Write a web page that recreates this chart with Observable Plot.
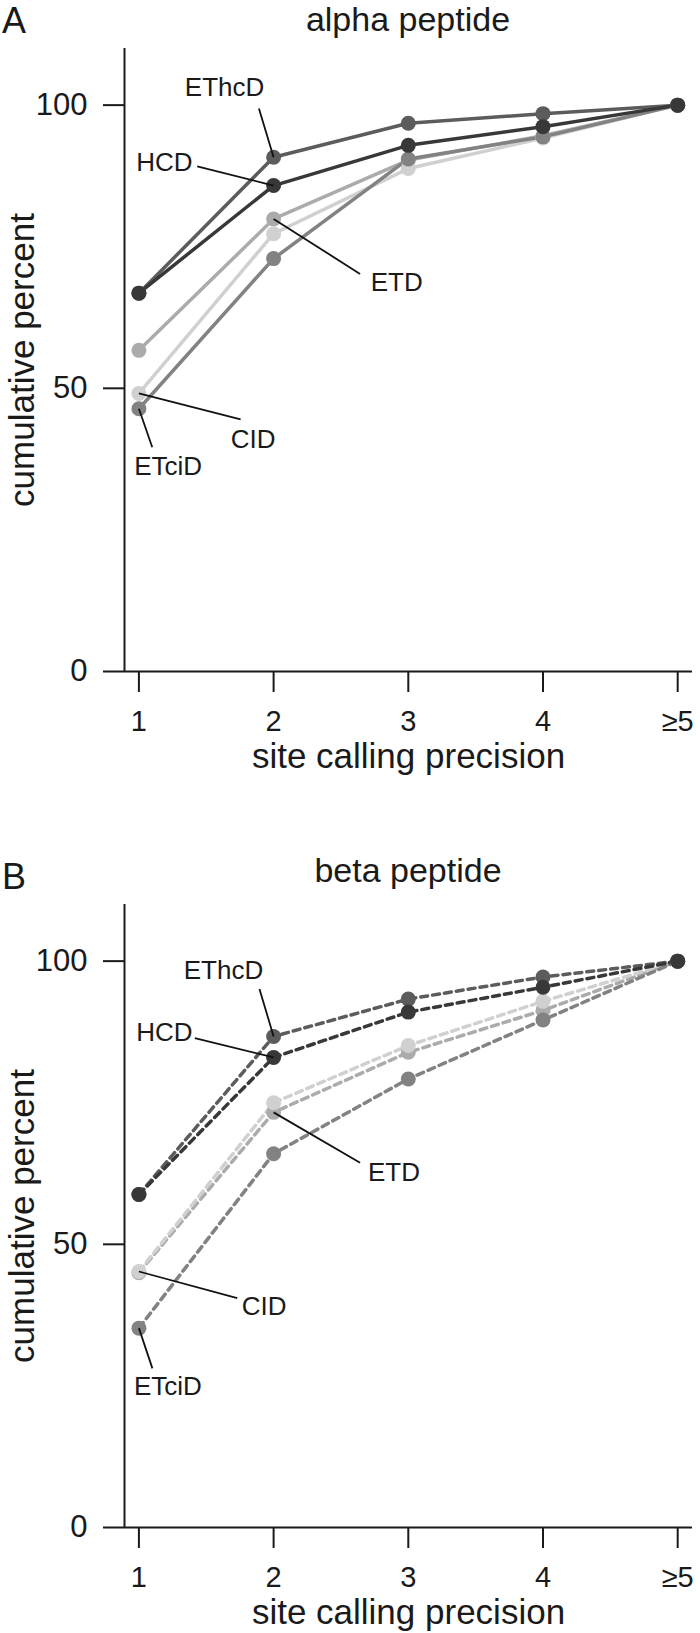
<!DOCTYPE html>
<html><head><meta charset="utf-8">
<script src="https://cdn.jsdelivr.net/npm/d3@7"></script>
<script src="https://cdn.jsdelivr.net/npm/@observablehq/plot@0.6"></script>
<style>
html,body{margin:0;padding:0;background:#fff;overflow:hidden;}
body{width:700px;height:1633px;font-family:"Liberation Sans",Arial,Helvetica,sans-serif;color:#1a1a1a;}
.panel{position:relative;width:700px;}
.panel svg{display:block;}
.letter{position:absolute;left:2px;top:3px;font-size:36px;line-height:36px;}
.title{position:absolute;left:124px;width:568px;text-align:center;font-size:34px;line-height:34px;top:2px;}
</style></head><body>
<div id="A" class="panel" style="height:856px"><div class="letter">A</div><div class="title">alpha peptide</div></div>
<div id="B" class="panel" style="height:777px"><div class="letter">B</div><div class="title" style="top:-3px">beta peptide</div></div>
<script>
// ---- data ----
const precision = [1, 2, 3, 4, 5];
const xTickLabels = ["1", "2", "3", "4", "≥5"];
const yTicks = [0, 50, 100];
const methods = ["ETD", "CID", "ETciD", "EThcD", "HCD"];
const methodColors = ["#ababab", "#d0d0d0", "#828282", "#5c5c5c", "#383838"];

// alpha peptide (cumulative percent)
const alphaCID   = [49.1, 77.3, 88.8, 94.2, 100];
const alphaETD   = [56.7, 79.9, 90.3, 94.6, 100];
const alphaETciD = [46.4, 72.9, 90.5, 94.4, 100];
const alphaEThcD = [66.8, 90.8, 96.8, 98.5, 100];
const alphaHCD   = [66.8, 85.8, 92.9, 96.2, 100];

// beta peptide (cumulative percent)
const betaCID   = [45.2, 75.0, 85.1, 92.9, 100];
const betaETD   = [45.0, 73.3, 83.9, 91.3, 100];
const betaETciD = [35.2, 66.0, 79.2, 89.6, 100];
const betaEThcD = [58.8, 86.7, 93.3, 97.2, 100];
const betaHCD   = [58.8, 83.0, 91.0, 95.4, 100];

// label annotations (data units)
const alphaNotes = [
  {method: "EThcD", tx: 1.636, ty: 103.0, x1: 1.891, y1: 99.4, x2: 2, y2: 90.8, anchor: "middle"},
  {method: "HCD",   tx: 1.398, ty: 89.8,  x1: 1.433, y1: 89.2, x2: 2, y2: 85.8, anchor: "end"},
  {method: "ETD",   tx: 2.914, ty: 68.6,  x1: 2,     y1: 79.9, x2: 2.642, y2: 70.2, anchor: "middle"},
  {method: "CID",   tx: 1.848, ty: 41.0,  x1: 1,     y1: 49.1, x2: 1.755, y2: 44.5, anchor: "middle"},
  {method: "ETciD", tx: 1.217, ty: 36.2,  x1: 1,     y1: 46.4, x2: 1.099, y2: 39.6, anchor: "middle"}
];
const betaNotes = [
  {method: "EThcD", tx: 1.628, ty: 98.3, x1: 1.895, y1: 95.1, x2: 2, y2: 86.7, anchor: "middle"},
  {method: "HCD",   tx: 1.398, ty: 87.4, x1: 1.415, y1: 86.4, x2: 2, y2: 83.0, anchor: "end"},
  {method: "ETD",   tx: 2.894, ty: 62.6, x1: 2,     y1: 73.3, x2: 2.642, y2: 64.4, anchor: "middle"},
  {method: "CID",   tx: 1.929, ty: 39.0, x1: 1,     y1: 45.2, x2: 1.73,  y2: 40.5, anchor: "middle"},
  {method: "ETciD", tx: 1.215, ty: 24.9, x1: 1,     y1: 35.2, x2: 1.1,   y2: 28.1, anchor: "middle"}
];

const xDomain = [0.893, 5.11];
const yDomain = [0, 110];
const FONT = '"Liberation Sans", Arial, Helvetica, sans-serif';

function rowsOf(series) {
  const rows = [];
  methods.forEach(m => series[m].forEach((v, i) => rows.push({method: m, x: precision[i], y: v})));
  return rows;
}

function panel(series, notes, dashed, height) {
  const rows = rowsOf(series);
  return Plot.plot({
    width: 700, height,
    marginLeft: 124, marginRight: 8, marginTop: 48, marginBottom: height - 671,
    style: {fontFamily: FONT, color: "#1a1a1a", background: "white"},
    x: {domain: xDomain},
    y: {domain: yDomain},
    color: {domain: methods, range: methodColors},
    marks: [
      Plot.ruleX([xDomain[0]], {stroke: "#1a1a1a", strokeWidth: 2}),
      Plot.ruleY([0], {stroke: "#1a1a1a", strokeWidth: 2}),
      Plot.axisY({ticks: yTicks, tickSize: 21, tickPadding: 16, fontSize: 31, strokeWidth: 2, label: null}),
      Plot.axisY({ticks: [], label: "cumulative percent", labelAnchor: "center", labelArrow: "none", labelOffset: 115.4, fontSize: 35}),
      Plot.axisX({ticks: precision, tickFormat: d => xTickLabels[precision.indexOf(d)], tickSize: 21, tickPadding: 18, fontSize: 29, strokeWidth: 2, label: null}),
      Plot.axisX({ticks: [], label: "site calling precision", labelAnchor: "center", labelArrow: "none", labelOffset: 96, fontSize: 35}),
      Plot.line(rows, {x: "x", y: "y", z: "method", stroke: "method", strokeWidth: 3.5, strokeDasharray: dashed ? "7,5" : null}),
      Plot.dot(rows, {x: "x", y: "y", fill: "method", r: 7.5}),
      Plot.link(notes, {x1: "x1", y1: "y1", x2: "x2", y2: "y2", stroke: "#111", strokeWidth: 1.8}),
      Plot.text(notes.filter(d => d.anchor === "middle"), {x: "tx", y: "ty", text: "method", fontSize: 26, fill: "#1a1a1a", textAnchor: "middle"}),
      Plot.text(notes.filter(d => d.anchor === "end"), {x: "tx", y: "ty", text: "method", fontSize: 26, fill: "#1a1a1a", textAnchor: "end"})
    ]
  });
}

const alphaSeries = {CID: alphaCID, ETD: alphaETD, ETciD: alphaETciD, EThcD: alphaEThcD, HCD: alphaHCD};
const betaSeries = {CID: betaCID, ETD: betaETD, ETciD: betaETciD, EThcD: betaEThcD, HCD: betaHCD};

document.getElementById("A").prepend(panel(alphaSeries, alphaNotes, false, 856));
document.getElementById("B").prepend(panel(betaSeries, betaNotes, true, 777));
</script>
</body></html>
